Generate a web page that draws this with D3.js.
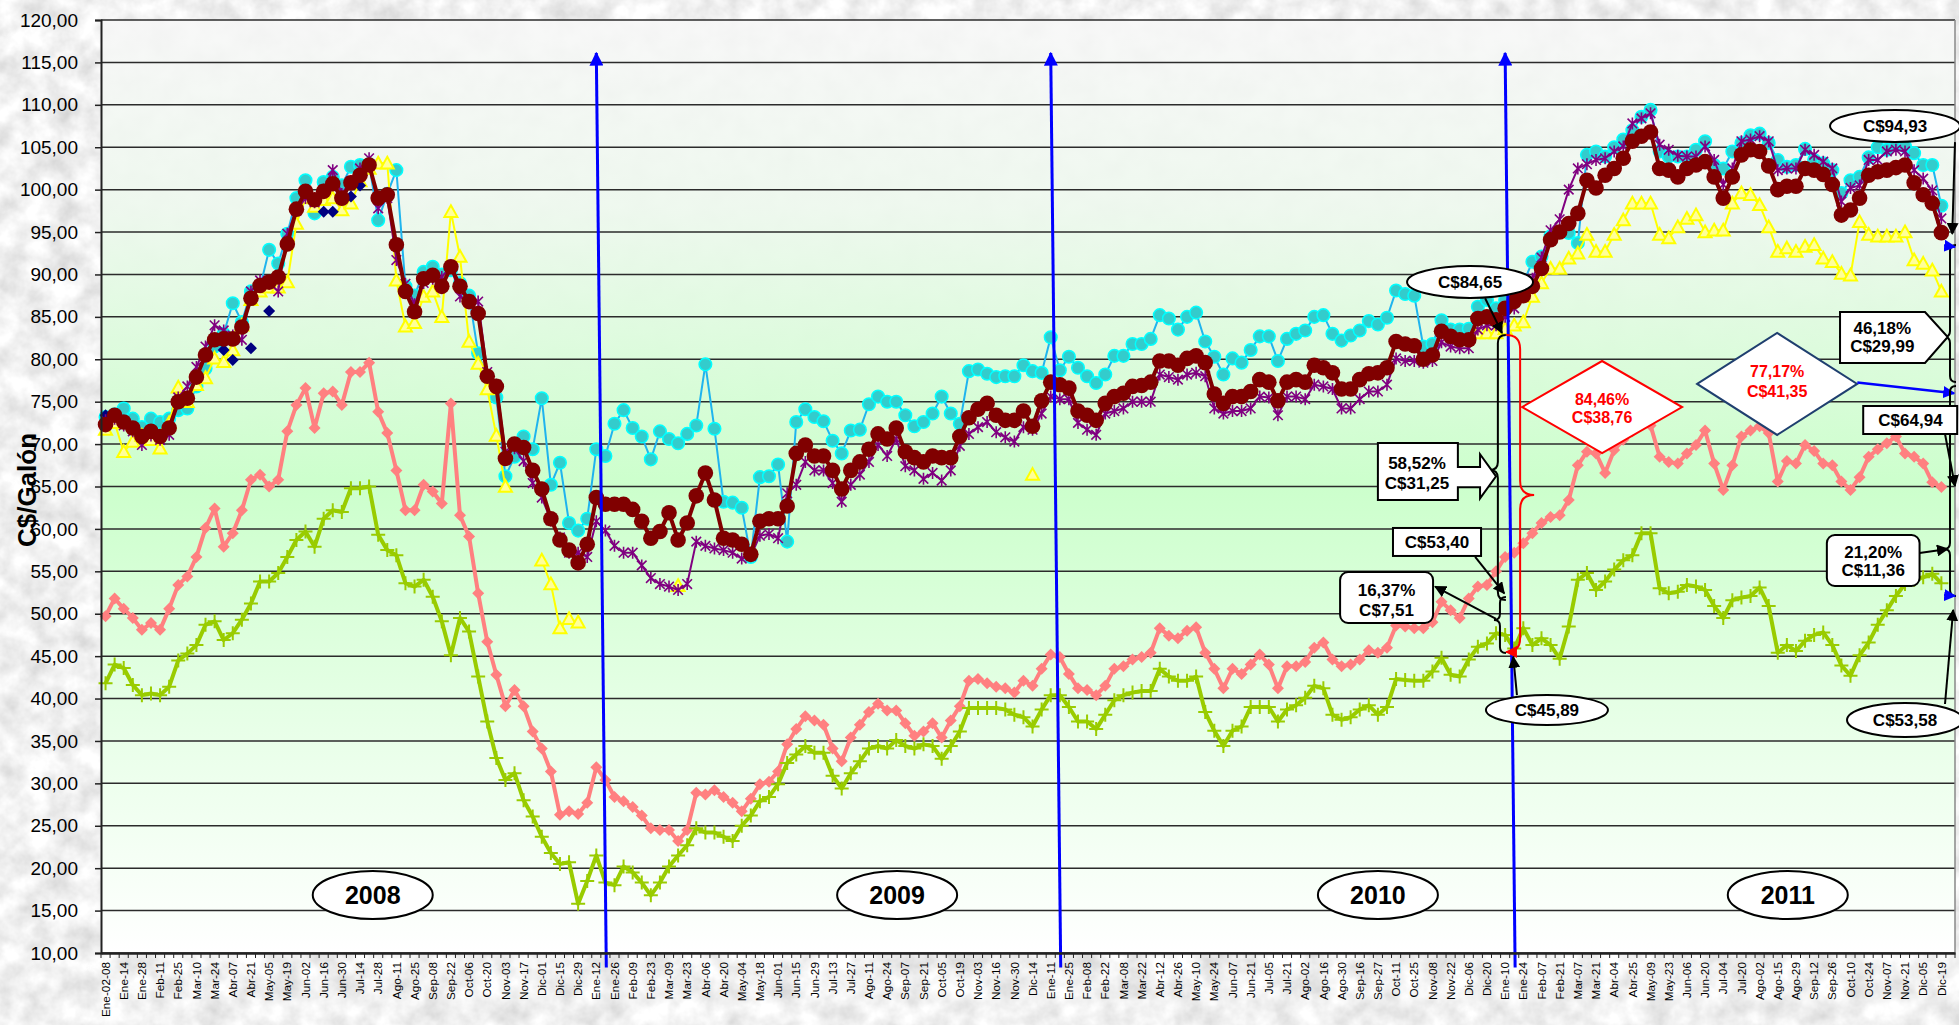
<!DOCTYPE html>
<html><head><meta charset="utf-8">
<script src="https://cdn.jsdelivr.net/npm/d3@7"></script>
<style>html,body{margin:0;padding:0;background:#dcdcdc;overflow:hidden}svg{display:block;font-family:Arial,"Liberation Sans",sans-serif}</style>
</head><body><svg id="chart" width="1959" height="1025"></svg>
<script>
// ---------------- DATA ----------------
const categoryCount = 204;
const tickLabels = ["Ene-02-08","Ene-14","Ene-28","Feb-11","Feb-25","Mar-10","Mar-24","Abr-07","Abr-21","May-05",
"May-19","Jun-02","Jun-16","Jun-30","Jul-14","Jul-28","Ago-11","Ago-25","Sep-08","Sep-22",
"Oct-06","Oct-20","Nov-03","Nov-17","Dic-01","Dic-15","Dic-29","Ene-12","Ene-26","Feb-09",
"Feb-23","Mar-09","Mar-23","Abr-06","Abr-20","May-04","May-18","Jun-01","Jun-15","Jun-29",
"Jul-13","Jul-27","Ago-11","Ago-24","Sep-07","Sep-21","Oct-05","Oct-19","Nov-03","Nov-16",
"Nov-30","Dic-14","Ene-11","Ene-25","Feb-08","Feb-22","Mar-08","Mar-22","Abr-12","Abr-26",
"May-10","May-24","Jun-07","Jun-21","Jul-05","Jul-21","Ago-02","Ago-16","Ago-30","Sep-16",
"Sep-27","Oct-11","Oct-25","Nov-08","Nov-22","Dic-06","Dic-20","Ene-10","Ene-24","Feb-07",
"Feb-21","Mar-07","Mar-21","Abr-04","Abr-25","May-09","May-23","Jun-06","Jun-20","Jul-04",
"Jul-20","Ago-02","Ago-15","Ago-29","Sep-12","Sep-26","Oct-10","Oct-24","Nov-07","Nov-21",
"Dic-05","Dic-19"];
const yTickValues = [10,15,20,25,30,35,40,45,50,55,60,65,70,75,80,85,90,95,100,105,110,115,120];
const yearLabels = ["2008","2009","2010","2011"];
const yearBoundaryCategories = [54,104,154];

const maroonSeries = [
72.3,73.4,72.6,71.9,70.9,71.5,70.9,71.9,75.0,75.4,
77.9,80.5,82.3,82.4,82.4,83.8,87.2,88.7,89.1,89.7,
93.6,97.7,99.8,98.8,99.8,100.7,99.0,100.8,101.7,102.9,
99.0,99.4,93.5,88.0,85.6,89.5,89.9,88.6,90.9,88.6,
86.8,85.4,78.0,76.8,68.3,70.0,69.6,66.9,64.7,61.2,
58.7,57.5,56.0,58.2,63.7,62.9,62.9,62.9,62.3,60.9,
58.9,59.7,61.9,58.7,60.7,63.9,66.6,63.4,58.9,58.7,
58.2,57.0,60.9,61.2,61.2,62.7,68.9,69.9,68.6,68.6,
66.9,64.7,66.9,67.9,69.4,71.2,70.6,71.9,69.1,68.4,
67.9,68.6,68.4,68.4,70.9,73.1,74.1,74.8,73.4,72.8,
72.8,73.9,72.1,75.1,77.3,77.0,76.6,73.9,73.4,72.8,
74.8,75.6,76.0,76.8,76.9,77.3,79.8,79.8,79.3,80.1,
80.4,79.6,75.9,74.8,75.6,75.6,76.2,77.6,77.3,75.1,
77.3,77.6,77.3,79.3,79.0,78.4,76.5,76.5,77.6,78.3,
78.4,79.0,82.1,81.8,81.6,80.0,80.5,83.3,82.7,82.3,
82.3,84.8,85.0,84.65,86.0,86.8,87.5,88.6,90.7,94.1,
95.0,96.0,97.2,101.1,100.2,101.7,102.5,103.7,105.7,106.3,
106.8,102.5,102.3,101.5,102.5,102.9,103.3,101.5,99.0,101.5,
104.1,104.7,104.5,102.8,100.0,100.4,100.4,102.5,102.3,101.8,
100.6,97.0,97.6,99.0,101.7,102.1,102.3,102.6,102.9,100.8,
99.4,98.4,94.93];

const cyanSeries = [
73.2,73.5,74.2,73.0,72.0,73.0,72.6,73.0,74.0,74.2,
76.8,78.9,81.5,83.0,86.6,84.4,88.0,88.5,92.9,91.3,
94.8,99.0,101.1,97.2,100.9,101.5,100.5,102.7,102.9,103.0,
96.4,99.5,102.3,88.6,87.5,90.3,90.9,90.0,90.5,89.0,
87.5,80.7,78.0,75.5,66.2,68.5,70.9,69.4,75.4,65.2,
67.8,60.7,59.8,61.2,69.4,68.6,72.4,74.0,71.9,70.9,
68.2,71.5,70.6,70.1,71.2,72.2,79.4,71.8,63.2,63.1,
62.5,56.7,66.1,66.2,67.6,58.5,72.6,74.1,73.2,72.7,
70.4,68.9,71.6,71.7,74.7,75.6,75.0,75.0,73.4,72.1,
72.6,73.6,75.6,73.6,72.4,78.6,78.8,78.3,77.9,78.0,
78.0,79.3,78.6,78.4,82.6,78.7,80.3,79.0,78.0,77.2,
78.2,80.4,80.4,81.8,81.8,82.4,85.2,84.8,83.5,85.0,
85.5,82.1,80.3,78.2,80.1,79.6,81.1,82.7,82.7,79.8,
82.4,83.0,83.4,85.0,85.2,83.0,82.2,82.8,83.4,84.5,
84.1,84.9,88.1,87.7,87.5,81.5,81.8,84.6,83.5,83.5,
83.6,86.2,87.0,86.0,87.0,87.5,89.0,91.5,92.1,94.5,
95.0,94.9,93.7,104.1,104.5,103.9,105.0,105.9,107.0,108.6,
109.4,104.5,103.9,103.9,103.9,104.7,105.7,102.9,102.5,104.5,
105.5,106.4,106.6,105.5,103.5,102.7,102.9,104.8,103.5,103.1,
102.3,99.6,101.1,101.5,103.8,105.0,104.7,105.3,105.1,104.3,
102.9,102.9,98.1];

const purpleSeries = [
72.8,73.0,72.2,71.5,69.9,71.0,70.5,71.1,75.5,76.8,
79.1,81.5,84.0,83.4,82.8,82.3,88.0,89.3,89.0,88.0,
94.8,97.5,99.0,98.5,100.0,102.3,99.5,101.0,102.5,103.7,
97.8,99.0,91.7,88.9,86.5,89.0,89.5,89.7,91.0,87.4,
87.0,86.8,78.5,77.0,69.1,69.5,68.0,65.4,63.7,61.0,
59.0,57.2,57.2,56.7,60.9,59.8,58.0,57.2,57.2,55.7,
54.2,53.5,53.2,52.8,53.5,58.5,58.0,57.7,57.5,57.2,
56.5,56.8,59.2,59.4,58.9,64.2,65.2,67.9,66.9,66.9,
65.4,63.2,65.2,66.4,67.9,69.9,68.6,70.6,67.4,66.9,
65.9,66.6,65.7,66.9,69.8,71.2,72.0,72.6,71.4,70.8,
70.3,72.0,71.7,73.6,75.6,75.3,75.3,72.5,71.7,71.1,
73.6,73.9,74.2,75.0,75.0,75.0,78.2,77.9,77.6,78.2,
78.4,78.0,74.2,73.6,73.9,73.9,74.2,75.6,75.5,73.4,
75.6,75.6,75.3,77.0,76.8,76.5,74.2,74.2,75.3,76.2,
76.2,77.0,80.1,79.8,79.8,79.6,79.8,82.0,81.5,81.3,
81.3,83.5,84.0,84.0,85.0,86.0,87.5,89.5,92.0,95.2,
96.5,100.0,102.5,103.0,103.5,103.7,104.5,105.1,107.8,108.4,
109.0,105.3,104.7,104.0,103.9,103.9,105.1,103.5,100.6,102.5,
105.7,105.9,106.3,105.7,102.3,102.5,102.5,104.7,104.1,103.3,
102.5,98.6,100.2,100.5,103.5,103.5,104.5,104.7,104.5,102.3,
101.3,99.9,96.6];

const yellowSeries = [
71.7,72.5,69.1,70.3,71.0,70.5,69.5,72.5,76.7,75.0,
77.0,77.8,80.1,79.7,81.1,84.0,87.0,88.0,88.5,88.5,
89.1,96.0,99.0,98.0,98.8,99.0,97.6,98.4,101.0,102.5,
103.1,103.1,89.3,83.9,84.3,87.4,88.0,85.0,97.4,92.1,
82.1,79.5,76.5,71.0,65.0,null,null,null,56.3,53.5,
48.3,49.4,49.0,null,null,null,null,null,null,null,
null,null,null,53.3,null,null,null,null,null,null,
null,null,null,null,null,null,null,null,null,null,
null,null,null,null,null,null,null,null,null,null,
null,null,null,null,null,null,null,null,null,null,
null,null,66.4,null,null,null,null,null,null,null,
null,null,null,null,null,null,null,null,null,null,
null,null,null,null,null,null,null,null,null,null,
null,null,null,null,null,null,null,null,null,null,
null,null,null,null,null,null,null,null,null,null,
null,83.1,83.1,83.1,83.6,84.0,84.4,87.4,89.0,90.7,
90.7,91.9,92.5,94.7,92.7,92.7,94.7,96.4,98.4,98.4,
98.4,94.7,94.3,95.6,96.6,97.0,95.0,95.2,95.2,98.4,
99.6,99.4,98.2,95.6,92.7,93.1,92.7,93.3,93.5,91.9,
91.5,90.1,89.9,96.2,94.7,94.5,94.5,94.5,95.0,91.7,
91.3,90.5,88.0];

const navyCategories = [0,13,14,16,18,24,25,27,28];
const navyValues = [73.4,81.1,79.9,81.3,85.7,97.4,97.4,99.2,100.5];

const salmonSeries = [
49.7,51.8,50.6,49.5,48.1,48.9,48.1,50.6,53.4,54.4,
56.7,60.1,62.4,57.9,59.5,62.2,65.8,66.4,65.0,65.8,
71.5,74.6,76.6,71.9,76.0,76.2,74.6,78.5,78.5,79.6,
73.8,71.3,66.9,62.2,62.2,65.2,64.4,63.0,74.8,61.6,
59.1,52.4,46.7,42.8,39.1,41.0,39.1,36.1,34.1,31.4,
26.3,26.7,26.4,27.7,31.9,30.4,28.4,27.9,27.2,26.2,
24.7,24.5,24.5,23.2,24.5,28.9,28.7,29.2,28.4,27.7,
26.7,28.2,29.9,30.2,31.4,34.6,36.4,37.9,37.4,36.9,
34.1,32.6,35.4,36.9,38.4,39.4,38.6,38.6,37.1,35.6,
36.1,37.1,35.4,37.4,39.1,42.1,42.3,41.8,41.4,41.2,
40.7,42.1,41.5,43.5,45.2,44.9,42.9,41.2,41.0,40.4,
41.5,43.5,43.8,44.6,44.9,45.4,48.3,47.4,47.1,48.0,
48.4,45.4,43.5,41.2,43.5,42.9,44.0,45.2,44.0,41.2,
43.8,43.8,44.3,46.0,46.6,44.6,43.8,44.0,44.6,45.7,
45.4,46.0,48.6,48.5,48.3,48.3,49.0,51.4,50.4,49.5,
51.8,53.2,53.4,55.0,56.7,57.2,58.3,59.5,60.7,61.4,
61.6,63.4,67.5,69.1,68.9,66.6,69.3,70.5,71.5,72.5,
72.2,68.5,67.9,67.7,68.9,69.9,71.6,67.7,64.6,67.5,
70.9,71.6,72.1,71.3,65.6,68.0,67.7,69.9,69.2,67.7,
67.5,65.6,64.6,66.1,68.5,69.4,70.1,70.9,68.9,68.5,
67.7,65.5,64.94];

const greenSeries = [
41.8,44.0,43.6,41.6,40.4,40.6,40.4,41.4,44.5,45.3,
46.3,48.7,49.1,46.9,47.7,49.3,51.2,53.8,53.8,54.8,
56.7,58.7,59.7,57.9,61.2,62.2,62.0,64.8,64.8,65.0,
59.3,57.5,56.9,53.6,53.2,54.0,52.0,49.1,45.1,49.5,
47.9,42.6,37.3,33.0,30.4,31.2,28.0,26.1,23.7,21.8,
20.5,20.7,15.8,18.5,21.5,18.3,18.0,20.2,19.5,18.3,
16.8,18.3,20.2,21.5,22.7,24.7,24.2,24.2,23.7,23.2,
25.0,26.2,27.9,28.4,29.9,32.4,33.4,34.4,33.6,33.6,
30.9,29.4,31.2,32.6,34.1,34.4,34.1,35.1,34.4,34.1,
34.6,34.4,32.9,34.4,36.1,38.9,38.9,38.9,38.9,38.7,
38.1,37.8,36.7,38.7,40.4,40.4,39.0,37.3,37.3,36.4,
38.1,39.8,40.4,40.7,40.9,40.9,43.5,42.6,42.1,42.1,
42.6,38.4,36.2,34.4,36.2,36.7,39.0,39.0,39.0,37.3,
38.7,39.2,40.1,41.5,41.2,38.1,37.5,37.8,38.7,39.2,
38.1,39.0,42.3,42.2,42.1,42.1,43.2,44.8,42.8,42.6,
44.6,46.1,46.5,47.7,47.5,45.89,48.3,46.3,47.1,46.3,
44.7,48.5,54.0,54.8,52.8,53.8,55.2,56.3,56.9,59.5,
59.5,53.0,52.4,52.6,53.4,53.2,52.8,50.9,49.5,51.6,
51.9,52.1,53.1,50.9,45.4,46.3,45.6,46.8,47.5,47.8,
46.3,43.9,42.7,45.1,46.6,48.7,50.4,52.1,53.5,54.0,
54.3,54.7,53.58];

// ---------------- LAYOUT ----------------
const W = 1959, H = 1025;
const plot = {left:101, right:1955, top:20, bottom:953};
const svg = d3.select('#chart');
const defs = svg.append('defs');

const x = d3.scaleBand().domain(d3.range(categoryCount)).range([plot.left, plot.right]).padding(0);
const bw = x.bandwidth();
const xc = i => x(0) + (i + 0.5) * bw;          // category centre (fractional allowed)
const y = d3.scaleLinear().domain([10,120]).range([plot.bottom, plot.top]);

// texture filter
const flt = defs.append('filter').attr('id','marble').attr('x',0).attr('y',0).attr('width','100%').attr('height','100%');
flt.append('feTurbulence').attr('type','fractalNoise').attr('baseFrequency','0.04').attr('numOctaves',4).attr('seed',11).attr('result','n');
flt.append('feColorMatrix').attr('type','matrix')
  .attr('values','0.5 0 0 0 0.63  0.5 0 0 0 0.63  0.5 0 0 0 0.63  0 0 0 0 1');

const grad = defs.append('linearGradient').attr('id','plotGrad').attr('gradientUnits','userSpaceOnUse')
  .attr('x1',0).attr('y1',plot.top).attr('x2',0).attr('y2',plot.bottom);
[[0,'#f7f7f7',0.88],[0.2,'#eef8ee',0.95],[0.5,'#ccffcc',1],[0.76,'#e8ffe8',1],[1,'#ffffff',1]]
  .forEach(s=>grad.append('stop').attr('offset',s[0]).attr('stop-color',s[1]).attr('stop-opacity',s[2]));

function arrowMarker(id,color,size){
  defs.append('marker').attr('id',id).attr('viewBox','0 0 10 10').attr('refX',9).attr('refY',5)
    .attr('markerUnits','userSpaceOnUse').attr('markerWidth',size).attr('markerHeight',size).attr('orient','auto')
    .append('path').attr('d','M0,0L10,5L0,10Z').attr('fill',color);
}
arrowMarker('arrBlack','#000',12);
arrowMarker('arrBlue','#0000ff',14);
arrowMarker('arrBlueS','#0000ff',12);
arrowMarker('arrRed','#ff0000',12);

// background
svg.append('rect').attr('width',W).attr('height',H).attr('filter','url(#marble)');
svg.append('rect').attr('x',plot.left).attr('y',plot.top).attr('width',plot.right-plot.left).attr('height',plot.bottom-plot.top).attr('fill','url(#plotGrad)');

// gridlines
svg.append('g').selectAll('line').data(yTickValues).join('line')
  .attr('x1',plot.left).attr('x2',plot.right).attr('y1',d=>y(d)).attr('y2',d=>y(d))
  .attr('stroke','#2b2b2b').attr('stroke-width',1.5);
svg.append('line').attr('x1',plot.right).attr('x2',plot.right).attr('y1',plot.top).attr('y2',plot.bottom).attr('stroke','#888').attr('stroke-width',1.5);

// ---------------- SERIES ----------------
const shapes = {
  diamond: s=>`M0,${-s}L${s},0L0,${s}L${-s},0Z`,
  triangle: s=>`M0,${-s}L${s},${s*0.8}L${-s},${s*0.8}Z`,
  plus: s=>`M${-s},0H${s}M0,${-s}V${s}`,
  star: s=>`M0,${-s}V${s}M${-s*0.8},${-s*0.8}L${s*0.8},${s*0.8}M${-s*0.8},${s*0.8}L${s*0.8},${-s*0.8}`
};
const lineGen = d3.line().defined(d=>d.v!=null).x(d=>xc(d.i)).y(d=>y(d.v));
const toPts = arr => arr.map((v,i)=>({i,v}));

function drawSeries(values, o){
  const pts = toPts(values);
  const g = svg.append('g');
  if (o.lineWidth) g.append('path').attr('d',lineGen(pts)).attr('fill','none')
      .attr('stroke',o.lineColor).attr('stroke-width',o.lineWidth).attr('stroke-linejoin','round');
  const m = g.selectAll('.m').data(pts.filter(d=>d.v!=null)).join(o.marker==='circle'?'circle':'path')
    .attr('class','m');
  if (o.marker==='circle') m.attr('cx',d=>xc(d.i)).attr('cy',d=>y(d.v)).attr('r',o.size);
  else m.attr('transform',d=>`translate(${xc(d.i)},${y(d.v)})`).attr('d',shapes[o.marker](o.size));
  m.attr('fill',o.fill||'none').attr('stroke',o.stroke||'none').attr('stroke-width',o.strokeWidth||0);
}

drawSeries(salmonSeries,{lineColor:'#ff8080',lineWidth:4,marker:'diamond',size:6,fill:'#ff8080'});
drawSeries(greenSeries,{lineColor:'#99cc00',lineWidth:4,marker:'plus',size:7,stroke:'#99cc00',strokeWidth:2});
drawSeries(cyanSeries,{lineColor:'#1fb4ee',lineWidth:2,marker:'circle',size:6.3,fill:'#33cccc',stroke:'#00ffff',strokeWidth:1.5});
drawSeries(yellowSeries,{lineColor:'#ffff00',lineWidth:2,marker:'triangle',size:6.5,fill:'#ffff99',stroke:'#ffff00',strokeWidth:2});
svg.append('g').selectAll('path').data(navyCategories).join('path')
  .attr('transform',(c,k)=>`translate(${xc(c)},${y(navyValues[k])})`).attr('d',shapes.diamond(6)).attr('fill','#000080');
drawSeries(purpleSeries,{lineColor:'#800080',lineWidth:2,marker:'star',size:6,stroke:'#800080',strokeWidth:1.6});
drawSeries(maroonSeries,{lineColor:'#800000',lineWidth:4,marker:'circle',size:7.8,fill:'#800000'});

// ---------------- YEAR MARKERS ----------------
const ann = svg.append('g');
yearBoundaryCategories.forEach(c=>{
  ann.append('line').attr('x1',xc(c)+10).attr('y1',y(8.3)).attr('x2',xc(c)).attr('y2',y(116.1))
    .attr('stroke','#0000ff').attr('stroke-width',3).attr('marker-end','url(#arrBlue)');
});
const yearPos = [29.4,87.1,140.0,185.1];
yearLabels.forEach((t,k)=>{
  ann.append('ellipse').attr('cx',xc(yearPos[k])).attr('cy',y(16.84)).attr('rx',60).attr('ry',24)
    .attr('fill','#fff').attr('stroke','#000').attr('stroke-width',2);
  ann.append('text').attr('x',xc(yearPos[k])).attr('y',y(16.84)).attr('dy','0.36em').attr('text-anchor','middle')
    .attr('font-size',25).attr('font-weight','bold').text(t);
});

// ---------------- ANNOTATIONS ----------------
const P = (i,v)=>[xc(i),y(v)];
function label(lines, i, vs, color, size){
  lines.forEach((t,k)=>ann.append('text').attr('x',xc(i)).attr('y',y(vs[k])).attr('dy','0.36em')
    .attr('text-anchor','middle').attr('font-size',size||17).attr('font-weight','bold').attr('fill',color||'#000').text(t));
}
function arrow(a,b,marker,color,w){
  ann.append('line').attr('x1',xc(a[0])).attr('y1',y(a[1])).attr('x2',xc(b[0])).attr('y2',y(b[1]))
    .attr('stroke',color||'#000').attr('stroke-width',w||2).attr('marker-end',`url(#${marker||'arrBlack'})`);
}
function ellipseLabel(i,v,rx,ry,t){
  ann.append('ellipse').attr('cx',xc(i)).attr('cy',y(v)).attr('rx',rx).attr('ry',ry).attr('fill','#fff').attr('stroke','#000').attr('stroke-width',2);
  label([t],i,[v]);
}
function rectLabel(i0,i1,v0,v1,r){
  ann.append('rect').attr('x',xc(i0)).attr('y',y(v0)).attr('width',xc(i1)-xc(i0)).attr('height',y(v1)-y(v0))
    .attr('rx',r||0).attr('fill','#fff').attr('stroke','#000').attr('stroke-width',2);
}
function brace(i,v0,v1,vm,w,color,marker){
  const xs=xc(i), a=y(v0), b=y(v1), m=y(vm), r=Math.abs(w);
  const d=`M${xs+w},${a}Q${xs},${a} ${xs},${a+r}L${xs},${m-r}Q${xs},${m} ${xs-w},${m}Q${xs},${m} ${xs},${m+r}L${xs},${b-r}Q${xs},${b} ${xs+w},${b}`;
  const p=ann.append('path').attr('d',d).attr('fill','none').attr('stroke',color||'#000').attr('stroke-width',2);
  if(marker) p.attr('marker-end',`url(#${marker})`);
}
function diamond(i,v,hw,hh,stroke){
  const [cx,cy]=P(i,v);
  ann.append('path').attr('d',`M${cx-hw},${cy}L${cx},${cy-hh}L${cx+hw},${cy}L${cx},${cy+hh}Z`)
    .attr('fill','#fff').attr('stroke',stroke).attr('stroke-width',2);
}

// left group (end of 2010)
brace(153.2,82.86,51.62,66.95,8);
brace(155.65,82.86,45.49,64.0,-14,'#ff0000','arrRed');
brace(153.43,51.97,45.37,49.26,6);
ellipseLabel(150.14,89.11,63,16,'C$84,65');
arrow([151.8,87.2],[153.65,83.1]);
// 58,52% callout
(function(){
  const L=xc(140.0),R=xc(148.8),T=y(70.13),B=y(63.41),HB=xc(151.24),sT=y(67.3),sB=y(64.9),hT=y(68.8),hB=y(63.6),tip=P(153.0,66.2);
  ann.append('path').attr('d',`M${L},${T}H${R}V${sT}H${HB}V${hT}L${tip[0]},${tip[1]}L${HB},${hB}V${sB}H${R}V${B}H${L}Z`)
    .attr('fill','#fff').attr('stroke','#000').attr('stroke-width',2);
  label(['58,52%','C$31,25'],144.3,[67.77,65.4]);
})();
rectLabel(141.66,151.35,60.11,56.81);
label(['C$53,40'],146.5,[58.46]);
arrow([150.7,56.7],[153.9,52.4]);
rectLabel(135.84,146.07,54.92,48.91,8);
label(['16,37%','C$7,51'],140.95,[52.8,50.5]);
arrow([153.0,49.4],[146.3,53.2]);
ellipseLabel(158.6,38.65,61,15,'C$45,89');
arrow([155.3,40.4],[154.9,44.9]);
diamond(164.67,74.37,80,46,'#ff0000');
label(['84,46%','C$38,76'],164.67,[75.32,73.2],'#ff0000',16);

// right group (end of 2011)
diamond(183.93,77.09,80,51,'#1f3f6f');
label(['77,17%','C$41,35'],183.93,[78.6,76.26],'#ff0000',16);
arrow([192.75,77.25],[203.4,76.0],'arrBlueS','#0000ff',2.5);
brace(202.95,93.47,77.32,82.63,6);
brace(202.95,76.85,52.09,57.63,6);
arrow([202.3,93.4],[203.5,93.24],'arrBlueS','#0000ff',2);
arrow([202.3,52.2],[203.5,52.09],'arrBlueS','#0000ff',2);
ellipseLabel(196.9,107.5,65,16,'C$94,93');
arrow([203.5,105.6],[203.2,94.8]);
(function(){
  const L=xc(190.85),R=xc(200.2),T=y(85.57),B=y(79.56),tip=P(202.7,82.63);
  ann.append('path').attr('d',`M${L},${T}H${R}L${tip[0]},${tip[1]}L${R},${B}H${L}Z`)
    .attr('fill','#fff').attr('stroke','#000').attr('stroke-width',2);
  label(['46,18%','C$29,99'],195.5,[83.69,81.56]);
})();
rectLabel(193.4,203.74,74.49,71.19);
label(['C$64,94'],198.6,[72.84]);
arrow([202.4,71.19],[203.5,65.06]);
rectLabel(189.4,199.6,59.28,53.27,8);
label(['21,20%','C$11,36'],194.5,[57.28,55.16]);
arrow([199.6,57.16],[202.7,57.63]);
ellipseLabel(198.0,37.47,58,17,'C$53,58');
arrow([202.4,39.36],[203.3,50.44]);

// ---------------- AXES ----------------
const yAxis = svg.append('g').attr('transform',`translate(${plot.left},0)`)
  .call(d3.axisLeft(y).tickValues(yTickValues).tickSize(6).tickPadding(17).tickFormat(d=>d.toFixed(2).replace('.',',')));
yAxis.select('.domain').attr('stroke','#222').attr('stroke-width',2);
yAxis.selectAll('.tick line').attr('stroke','#222').attr('stroke-width',1.5);
yAxis.selectAll('.tick text').attr('font-size',19).attr('fill','#000').attr('font-family','Arial,"Liberation Sans",sans-serif');

const xAxis = svg.append('g').attr('transform',`translate(0,${plot.bottom})`)
  .call(d3.axisBottom(x).tickValues(d3.range(0,tickLabels.length*2,2)).tickSize(0).tickFormat(i=>tickLabels[i/2]));
xAxis.select('.domain').attr('stroke','#222').attr('stroke-width',2.5);
xAxis.selectAll('.tick text').attr('transform','rotate(-90)').attr('text-anchor','end')
  .attr('x',-9).attr('y',0).attr('dy','0.35em').attr('font-size',11.8).attr('fill','#000')
  .attr('font-family','Arial,"Liberation Sans",sans-serif');
xAxis.append('g').selectAll('line').data(d3.range(categoryCount+1)).join('line')
  .attr('x1',i=>x(0)+i*bw).attr('x2',i=>x(0)+i*bw).attr('y1',0).attr('y2',5).attr('stroke','#222').attr('stroke-width',1);

svg.append('text').attr('transform',`translate(27,490) rotate(-90)`).attr('text-anchor','middle').attr('dy','0.36em')
  .attr('font-size',26).attr('font-weight','bold').text('C$/Galón');
</script>
</body></html>
